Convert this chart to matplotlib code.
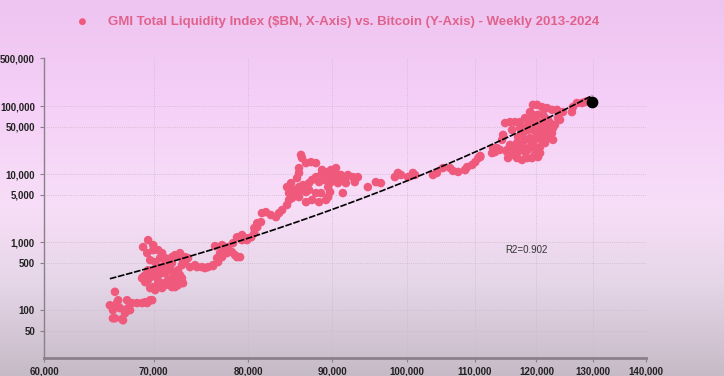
import numpy as np
import matplotlib
matplotlib.use('Agg')
import matplotlib.pyplot as plt
from matplotlib.ticker import FuncFormatter, FixedLocator, NullLocator
from matplotlib.colors import LinearSegmentedColormap

# GMI Total Liquidity ($BN) vs Bitcoin price
liq_2013 = [66300, 65830, 66110, 66490, 66780, 66300, 66970, 67250, 67530, 67910,
            68400, 67440, 68880, 69380, 69870, 66110, 67060, 67720, 69180, 69670, 66600]
btc_2013 = [186, 118, 100, 127, 107, 76, 74, 90, 107, 127,
            127, 140, 127, 127, 140, 76, 71, 100, 131, 140, 140]

liq_2014 = [68980, 69470, 69970, 70460, 70850, 69380, 71150, 72150, 72660, 73170,
            71840, 71440, 72150, 72860, 72970, 72150, 71640, 70850, 70360, 69970,
            69470, 68880, 69180, 69670, 70160, 70460, 70850, 71840, 72460, 72860,
            70650, 68980, 69470, 69970, 70850, 71840, 72460, 71950, 71150, 70460,
            72970, 72460, 71840, 71150, 69970, 71150, 71440, 72660, 70160,
            69670, 70160, 70650, 71640, 72150, 72460, 71150, 70460, 69670, 69180,
            73170, 73480]
btc_2014 = [845, 1070, 904, 763, 689, 689, 543, 644, 689, 602,
            491, 387, 350, 295, 249, 218, 233, 249, 295, 350,
            387, 295, 258, 211, 197, 327, 350, 295, 387, 459,
            429, 306, 276, 218, 211, 218, 276, 362, 350, 415,
            543, 644, 602, 582, 763, 459, 276, 327, 387,
            543, 508, 582, 415, 276, 233, 233, 249, 306, 327,
            508, 582]

liq_2016 = [73690, 74210, 74420, 74940, 75260, 75580, 76120, 76660, 77090, 77420,
            76870, 76330, 77090, 77740, 78180, 78510, 79070, 78290, 78730, 79290,
            79850, 80330, 80670, 81000, 81430, 76550, 77630, 78730, 79290, 79850, 76120]
btc_2016 = [429, 459, 429, 429, 415, 429, 444, 508, 602, 713,
            689, 874, 904, 845, 713, 644, 602, 967, 1180, 1270,
            1140, 1180, 1360, 1660, 1970, 582, 689, 602, 1070, 1070, 459]

liq_2017 = [80670, 81000, 81540, 82000, 82580, 83170, 83530, 83890, 84470, 84710,
            85070, 85910, 86760, 87500, 88370, 89240, 89500, 89750, 88620, 87990,
            86760, 86270, 85910, 85550, 84710, 84470, 84950, 85670, 85910, 85910,
            86150, 86270, 86760, 87370, 87990, 87130, 87500, 87990, 88620, 89240,
            89500, 89870, 90500, 88370, 88990, 89750, 90120, 90750, 91130, 92030,
            91640, 91770, 92670, 93330, 92930, 89500, 91380, 90370, 90750, 94650,
            95720, 96400, 98320, 98740, 99170, 100140, 89370, 89870, 88740, 87130,
            85310, 86390]
btc_2017 = [1610, 1900, 2670, 2760, 2500, 2330, 2670, 2960, 3510, 4160,
            4440, 4590, 3870, 4160, 3870, 4160, 4590, 5440, 5260, 5260,
            5440, 5840, 6440, 5440, 5260, 6440, 7370, 8730, 10390, 12250,
            19120, 17190, 14500, 15000, 14500, 7370, 8190, 9030, 9700, 10390,
            10750, 11500, 12250, 7620, 8190, 9030, 8730, 9030, 9700, 9700,
            8190, 7370, 9030, 9030, 7620, 6440, 5260, 10390, 7370, 6440,
            7620, 7370, 9030, 10390, 9700, 9030, 8730, 7620, 11500, 5840,
            5840, 6900]

liq_2020 = [100850, 101140, 103730, 104310, 105200, 106260, 106700, 107470, 108540, 108840,
            109620, 110090, 110560, 110870, 112730, 113210, 112890, 114000, 115140, 115300,
            116110, 116770, 113520, 114490, 114330, 114820, 115620, 116440, 117260, 118090,
            115140, 116770, 117590, 118420, 119260, 120270, 116930, 116770, 116930, 117760,
            118590, 118090, 117760, 118920, 119760, 120610, 120950, 121800, 122660, 122830,
            122310, 121460, 120610, 119760, 119420, 120270, 121120, 121460, 119420, 120100,
            120950, 121800, 122660, 123520, 123690, 124040, 119260, 120100, 119420, 118920,
            121800, 122830, 126140, 126320, 127030, 127930, 128470, 129010, 124560, 118590,
            120610, 121460, 119760, 118590, 120610, 115950, 118920, 108540, 110870,
            115950, 117260, 118090, 118920, 119760, 120610, 121460, 117260, 118090, 119760,
            118920, 121970, 123160, 115620]
btc_2020 = [10390, 9700, 9700, 10390, 12250, 12250, 11120, 10750, 11500, 12670,
            13620, 15000, 17190, 17780, 20360, 21060, 24130, 22650, 21060, 17190,
            22650, 20360, 24130, 37660, 31790, 56240, 58170, 58170, 58170, 66600,
            22650, 17190, 16140, 17190, 17190, 17780, 22650, 28580, 34990, 40100,
            44620, 31790, 24950, 24950, 24130, 24950, 31790, 33830, 40100, 47440,
            56240, 56240, 56240, 58170, 74200, 74200, 74200, 66600, 104150, 104150,
            96600, 93400, 87900, 87900, 66600, 62630, 28580, 37660, 44620, 33830,
            41460, 31790, 81600, 96600, 110700, 110700, 114500, 118460, 81600, 52860,
            44620, 47440, 31790, 22650, 20360, 19120, 62630, 11500, 18500,
            44620, 47440, 47440, 52860, 44620, 37660, 28580, 26830, 21060, 19120,
            81600, 62630, 52860, 26830]

# latest week highlighted
liq_last = [129800]
btc_last = [116000]

liquidity = np.array(liq_2013 + liq_2014 + liq_2016 + liq_2017 + liq_2020 + liq_last, dtype=float)
bitcoin = np.array(btc_2013 + btc_2014 + btc_2016 + btc_2017 + btc_2020 + btc_last, dtype=float)

x_ticks = [60000, 70000, 80000, 90000, 100000, 110000, 120000, 130000, 140000]
y_ticks = [50, 100, 500, 1000, 5000, 10000, 50000, 100000, 500000]

pink = '#ef5a7c'
title_pink = '#e0628c'

plt.rcParams['font.family'] = ['Liberation Sans', 'DejaVu Sans']

fig = plt.figure(figsize=(7.24, 3.76), dpi=100)

# background gradient (pink-lavender top to greyish bottom)
bg = fig.add_axes([0, 0, 1, 1], zorder=-10)
cmap = LinearSegmentedColormap.from_list('bg', [
    (0.00, (0.93, 0.77, 0.94)),
    (0.25, (0.96, 0.81, 0.97)),
    (0.55, (0.97, 0.87, 0.97)),
    (0.75, (0.90, 0.84, 0.91)),
    (1.00, (0.78, 0.73, 0.78))])
bg.imshow(np.linspace(0, 1, 256).reshape(-1, 1), aspect='auto', cmap=cmap,
          extent=[0, 1, 0, 1], origin='upper')
bg.axis('off')

ax = fig.add_axes([44 / 724, 1 - 357.7 / 376, (646 - 44) / 724, (357.7 - 58.5) / 376])
ax.set_facecolor('none')
ax.set_xscale('log')
ax.set_yscale('log')
ax.set_xlim(60000, 140000)
ax.set_ylim(20, 500000)

ax.scatter(liquidity[:-1], bitcoin[:-1], s=38, color=pink, edgecolors='none', zorder=3,
           label='GMI Total Liquidity Index ($BN, X-Axis) vs. Bitcoin (Y-Axis) - Weekly 2013-2024')
ax.scatter(liq_last, btc_last, s=55, color='black', zorder=5)

# exponential trend line fitted on the points
b, a = np.polyfit(liquidity, np.log10(bitcoin), 1)
xs = np.linspace(liquidity.min(), liquidity.max(), 200)
ax.plot(xs, 10 ** (a + b * xs), color='black', linestyle=(0, (4, 1)), linewidth=1.2, zorder=4)
ax.text(0.766, 0.36, 'R2=0.902', transform=ax.transAxes, fontsize=7, color='#333333', va='center')

ax.xaxis.set_major_locator(FixedLocator(x_ticks))
ax.yaxis.set_major_locator(FixedLocator(y_ticks))
ax.xaxis.set_minor_locator(NullLocator())
ax.yaxis.set_minor_locator(NullLocator())
fmt = FuncFormatter(lambda v, p: '{:,.0f}'.format(v))
ax.xaxis.set_major_formatter(fmt)
ax.yaxis.set_major_formatter(fmt)
ax.tick_params(axis='both', labelsize=7, colors='#222222', length=3, width=0.8)
for lab in ax.get_xticklabels() + ax.get_yticklabels():
    lab.set_fontweight('bold')
ax.tick_params(axis='both', color='#8a7f8a')

ax.grid(True, color='#cbb8cc', linestyle=':', linewidth=0.6)
ax.set_axisbelow(True)
for side in ['top', 'right']:
    ax.spines[side].set_visible(False)
ax.spines['left'].set_color('#8a7f8a')
ax.spines['left'].set_linewidth(1.0)
ax.spines['bottom'].set_color('#8a7f8a')
ax.spines['bottom'].set_linewidth(2.0)

leg = fig.legend(loc='center', bbox_to_anchor=(334 / 724, 1 - 22 / 376), frameon=False,
                 handletextpad=0.9, markerscale=0.8,
                 prop={'family': ['Liberation Sans Narrow', 'Liberation Sans'], 'weight': 'bold', 'size': 9.5})
for t in leg.get_texts():
    t.set_color(title_pink)

fig.savefig('out.png', dpi=100)
